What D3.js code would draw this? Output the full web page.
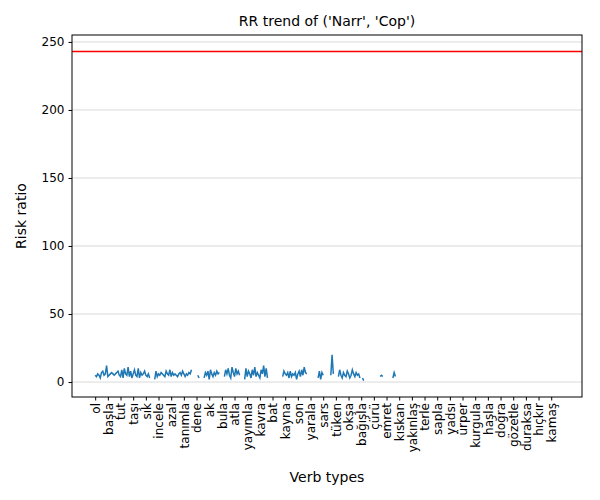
<!DOCTYPE html>
<html><head><meta charset="utf-8">
<script src="https://cdn.jsdelivr.net/npm/d3@7"></script>
<style>body{margin:0;background:#fff} text{font-family:"DejaVu Sans",sans-serif}</style>
</head><body><svg width="600" height="500"></svg>
<script>
const tickLabels = ['ol','başla','tut','taşı','sık','incele','azal','tanımla','dene','ak','bula','atla','yayımla','kavra','bat','kayna','son','yarala','sars','tüken','okşa','bağışla','çürü','emret','kıskan','yakınlaş','terle','sapla','yadsı','ürper','kurgula','haşla','doğra','gözetle','duraksa','hıçkır','kamaş'];
const nPoints = 367;
const tickStep = 10;
const baseline = 243;
// risk ratio per verb index, "_" = missing
const raw = `5 4 6 5 3 7 8 5 6 12 4 5 6 7 6 5 6 7 8 5 4 9 3 10 6 5 11 4 8 3 6 9 5 4 10 3 7 5 6 8 5 4 6 3
_ _ _
2 8 4 6 5 7 6 5 4 8 6 5 9 4 7 5 6 5 4 6 7 5 8 6 4 6 5 7 6 9
_ _ _ _ 5 3 _ _ _
3 7 5 8 2 9 6 4 7 5 8 6 7
_ _ _
4 9 6 10 5 3 11 7 4 10 6 8 5
_ _ _
2 10 4 8 6 3 9 5 11 4 7 5 3 9 6 12 4 10 3
_ _ _ _ _ _ _ _ _ _ _
4 8 6 5 7 3 8 4 6 5 7 2 6 8 4 9 5 11 7 6
_ _ _ _ _ _ _ _
3 8 2 7 5
_ _ _ _ _
5 20 6
_ _ _
4 9 5 3 7 5 4 8 6 3 5 9 6 4 7 5 6 3
_ 3 1
_ _ _ _ _ _ _ _ _ _ _ _ 4 5 4
_ _ _ _ _ _ _ 3 7 4`;
const values = raw.trim().split(/\s+/).map(s => s === '_' ? null : +s);

const svg = d3.select('svg');
const m = {left: 72, right: 582, top: 35, bottom: 397};
const x = d3.scaleLinear().domain([-18.3, nPoints - 1 + 18.3]).range([m.left, m.right]);
const y = d3.scaleLinear().domain([-11, 255.1]).range([m.bottom, m.top]);

// grid
svg.append('g').selectAll('line').data(y.ticks(5)).enter().append('line')
  .attr('x1', m.left).attr('x2', m.right)
  .attr('y1', d => y(d)).attr('y2', d => y(d))
  .attr('stroke', '#d9d9d9').attr('stroke-width', 1);

svg.append('path').datum(values)
  .attr('fill', 'none').attr('stroke', '#1f77b4').attr('stroke-width', 1.5)
  .attr('d', d3.line().defined(d => d != null).x((d, i) => x(i)).y(d => y(d)));

svg.append('line').attr('x1', m.left).attr('x2', m.right)
  .attr('y1', y(baseline)).attr('y2', y(baseline))
  .attr('stroke', 'red').attr('stroke-width', 1.5);

const yAxis = svg.append('g').attr('transform', `translate(${m.left},0)`)
  .call(d3.axisLeft(y).tickValues([0, 50, 100, 150, 200, 250]).tickSize(3.5).tickPadding(4));
const xAxis = svg.append('g').attr('transform', `translate(0,${m.bottom})`)
  .call(d3.axisBottom(x).tickValues(tickLabels.map((d, i) => i * tickStep))
    .tickFormat((d, i) => tickLabels[i]).tickSize(3.5));
[yAxis, xAxis].forEach(a => {
  a.select('.domain').remove();
  a.selectAll('text').attr('font-size', 12).attr('fill', '#000').attr('font-family', 'DejaVu Sans');
  a.selectAll('line').attr('stroke', '#000');
});
xAxis.selectAll('text').attr('transform', 'rotate(-90)')
  .attr('text-anchor', 'end').attr('x', -6).attr('y', 0).attr('dy', '0.35em');

svg.append('rect').attr('x', m.left).attr('y', m.top)
  .attr('width', m.right - m.left).attr('height', m.bottom - m.top)
  .attr('fill', 'none').attr('stroke', '#000').attr('stroke-width', 1);

svg.append('text').attr('x', (m.left + m.right) / 2).attr('y', 26)
  .attr('text-anchor', 'middle').attr('font-size', 14).text("RR trend of ('Narr', 'Cop')");
svg.append('text').attr('x', (m.left + m.right) / 2).attr('y', 482)
  .attr('text-anchor', 'middle').attr('font-size', 14).text('Verb types');
svg.append('text').attr('transform', `translate(26,${(m.top + m.bottom) / 2}) rotate(-90)`)
  .attr('text-anchor', 'middle').attr('font-size', 14).text('Risk ratio');
</script></body></html>
